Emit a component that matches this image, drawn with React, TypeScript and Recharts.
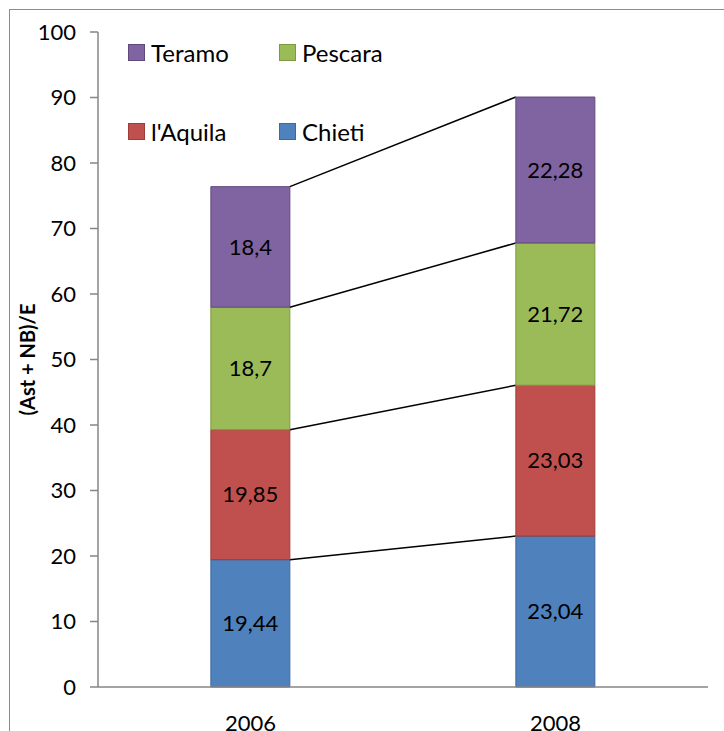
import React from "react";
import {
  BarChart,
  Bar,
  XAxis,
  YAxis,
  LabelList,
  Rectangle,
} from "recharts";

const years = ["2006", "2008"];
const chieti = [19.44, 23.04];
const aquila = [19.85, 23.03];
const pescara = [18.7, 21.72];
const teramo = [18.4, 22.28];
const yTicks = [0, 10, 20, 30, 40, 50, 60, 70, 80, 90, 100];

const SERIES = [
  { key: "chieti", name: "Chieti", values: chieti, fill: "#4F81BD", stroke: "#3D6A9E" },
  { key: "aquila", name: "l'Aquila", values: aquila, fill: "#C0504D", stroke: "#9C3D3A" },
  { key: "pescara", name: "Pescara", values: pescara, fill: "#9BBB59", stroke: "#7A9A3E" },
  { key: "teramo", name: "Teramo", values: teramo, fill: "#8064A2", stroke: "#5F4A7C" },
];

const LEGEND_ORDER = ["teramo", "pescara", "aquila", "chieti"];

const data = years.map((year, i) => {
  const row: Record<string, string | number> = { year };
  SERIES.forEach((s) => {
    row[s.key] = s.values[i];
  });
  return row;
});

// cumulative top of a series in a given row
const stackTop = (rowIndex: number, key: string) => {
  let sum = 0;
  for (const s of SERIES) {
    sum += s.values[rowIndex];
    if (s.key === key) break;
  }
  return sum;
};

const W = 724;
const H = 731;
const MARGIN = { top: 32, right: 16, bottom: 0, left: 38 };
const Y_AXIS_W = 60;
const PLOT_W = W - MARGIN.left - MARGIN.right - Y_AXIS_W;
const BAND = PLOT_W / years.length;
const FONT = "Lato, 'Open Sans', sans-serif";

// bar segment that also draws the Excel-style series line to the next bar
function SegmentShape(props: any) {
  const { x, y, width, height, index, seriesKey, fill, stroke } = props;
  let line = null;
  if (index === 0 && height > 0) {
    const own = SERIES.find((s) => s.key === seriesKey)!.values[0];
    const ppu = height / own;
    const ty = y + (stackTop(0, seriesKey) - stackTop(1, seriesKey)) * ppu;
    line = (
      <line x1={x + width} y1={y} x2={x + BAND} y2={ty} stroke="#000" strokeWidth={1.5} />
    );
  }
  return (
    <g>
      <Rectangle x={x} y={y} width={width} height={height} fill={fill} stroke={stroke} strokeWidth={1} />
      {line}
    </g>
  );
}

function LegendBox() {
  return (
    <div
      style={{
        position: "absolute",
        left: 128,
        top: 38,
        display: "grid",
        gridTemplateColumns: "151px 150px",
        rowGap: 51,
        fontFamily: FONT,
        fontSize: 24,
        color: "#000",
      }}
    >
      {LEGEND_ORDER.map((k) => {
        const s = SERIES.find((d) => d.key === k)!;
        return (
          <div key={k} style={{ display: "flex", alignItems: "center", height: 28 }}>
            <span
              style={{
                display: "inline-block",
                width: 15,
                height: 15,
                background: s.fill,
                border: `1px solid ${s.stroke}`,
                marginRight: 6,
              }}
            />
            <span>{s.name}</span>
          </div>
        );
      })}
    </div>
  );
}

export default function App() {
  return (
    <div style={{ position: "absolute", left: 0, top: 0, width: W, height: H, overflow: "hidden", background: "#fff" }}>
      <div
        style={{
          position: "absolute",
          left: 9,
          top: 9,
          width: W,
          height: H,
          borderLeft: "1.5px solid #8c8c8c",
          borderTop: "1.5px solid #8c8c8c",
        }}
      />
      <div style={{ position: "absolute", left: 0, top: 0 }}>
        <BarChart width={W} height={H} data={data} margin={MARGIN} barCategoryGap="37%">
          <XAxis
            dataKey="year"
            height={44}
            tickLine={false}
            axisLine={{ stroke: "#868686", strokeWidth: 1.5 }}
            tick={{ fill: "#000", fontSize: 22, fontFamily: FONT }}
            tickMargin={22}
          />
          <YAxis
            width={Y_AXIS_W}
            domain={[0, 100]}
            ticks={yTicks}
            interval={0}
            tickSize={8}
            tickMargin={14}
            tickLine={{ stroke: "#868686", strokeWidth: 1.5 }}
            axisLine={{ stroke: "#868686", strokeWidth: 1.5 }}
            tick={{ fill: "#000", fontSize: 22, fontFamily: FONT }}
            label={{
              value: "(Ast + NB)/E",
              angle: -90,
              position: "insideLeft",
              offset: -10,
              style: { fill: "#000", fontSize: 20, fontWeight: 700, fontFamily: FONT, textAnchor: "middle" },
            }}
          />
          {SERIES.map((s) => (
            <Bar
              key={s.key}
              dataKey={s.key}
              name={s.name}
              stackId="a"
              fill={s.fill}
              stroke={s.stroke}
              isAnimationActive={false}
              shape={(p: any) => <SegmentShape {...p} seriesKey={s.key} fill={s.fill} stroke={s.stroke} />}
            >
              <LabelList
                dataKey={s.key}
                position="center"
                formatter={(v: any) => String(v).replace(".", ",")}
                style={{ fill: "#000", fontSize: 22, fontFamily: FONT }}
              />
            </Bar>
          ))}
        </BarChart>
      </div>
      <LegendBox />
    </div>
  );
}
